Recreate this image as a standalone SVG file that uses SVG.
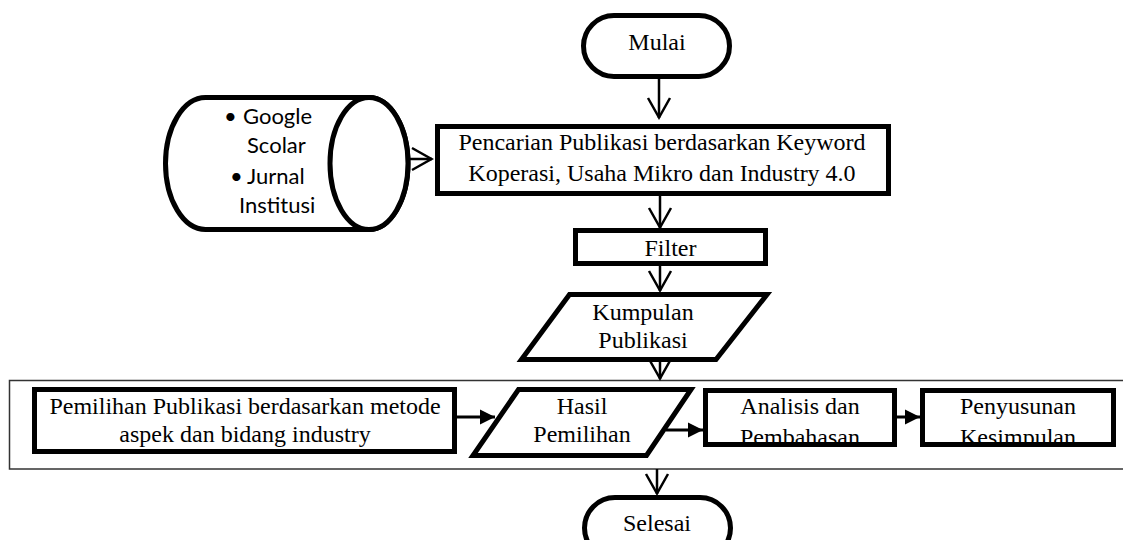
<svg xmlns="http://www.w3.org/2000/svg" width="1123" height="540" viewBox="0 0 1123 540">
<style>
.box{fill:#fff;stroke:#000;stroke-width:5;stroke-linejoin:miter}
.outline{fill:none;stroke:#000;stroke-width:5}
.t{font-family:"Liberation Serif","Times New Roman",serif;font-size:24px;fill:#000;text-anchor:middle}
.s{font-family:Lato,"Liberation Sans",sans-serif;font-size:22px;fill:#000}
.c{stroke:#000;stroke-width:2.5;fill:none}
.cf{stroke:#000;stroke-width:3;fill:none}
</style>
<defs>
<marker id="open" markerUnits="userSpaceOnUse" viewBox="0 0 24 26" refX="22" refY="13" markerWidth="24" markerHeight="26" orient="auto">
<path d="M2,2 L21.5,13 L2,24" fill="none" stroke="#000" stroke-width="2.5"/>
</marker>
<marker id="fill" markerUnits="userSpaceOnUse" viewBox="0 0 16 16" refX="15" refY="8" markerWidth="16" markerHeight="16" orient="auto">
<path d="M0,0.5 L15,8 L0,15.5 Z" fill="#000"/>
</marker>
<clipPath id="clipA"><rect x="708" y="393" width="184" height="49"/></clipPath>
<clipPath id="clipP"><rect x="925" y="393" width="186" height="49"/></clipPath>
</defs>

<g id="container">
<rect x="9.5" y="380.5" width="1125" height="88.5" fill="none" stroke="#333" stroke-width="1.5"/>
</g>

<g id="connectors">
<line class="c" x1="659" y1="79" x2="659" y2="118" marker-end="url(#open)"/>
<line class="c" x1="363" y1="159" x2="432" y2="159" marker-end="url(#open)"/>
<line class="c" x1="660" y1="196" x2="660" y2="228" marker-end="url(#open)"/>
<line class="c" x1="660" y1="266" x2="660" y2="291" marker-end="url(#open)"/>
<line class="c" x1="660" y1="358" x2="660" y2="379" marker-end="url(#open)"/>
<line class="c" x1="657" y1="469" x2="657" y2="494" marker-end="url(#open)"/>
<line class="cf" x1="457" y1="417" x2="495" y2="417" marker-end="url(#fill)"/>
<line class="cf" x1="666" y1="430" x2="703" y2="430" marker-end="url(#fill)"/>
<line class="cf" x1="897" y1="417" x2="920" y2="417" marker-end="url(#fill)"/>
</g>

<g id="mulai">
<rect class="box" x="583.5" y="15.5" width="146" height="61" rx="30.5"/>
<text class="t" x="657" y="50">Mulai</text>
</g>

<g id="sumber">
<path class="box" d="M205.5 97.5 L369 97.5 A39 66 0 0 1 369 229.5 L205.5 229.5 A40 66 0 0 1 205.5 97.5 Z"/>
<ellipse class="box" cx="369" cy="163.5" rx="39" ry="66"/>
<text class="s"><tspan x="224" y="124">•</tspan><tspan x="243" y="124">Google</tspan></text>
<text class="s" x="247" y="153">Scolar</text>
<text class="s"><tspan x="230" y="184">•</tspan><tspan x="247" y="184">Jurnal</tspan></text>
<text class="s" x="239" y="213">Institusi</text>
</g>

<g id="pencarian">
<rect class="box" x="437.5" y="126.5" width="451" height="67"/>
<text class="t" x="662" y="150">Pencarian Publikasi berdasarkan Keyword</text>
<text class="t" x="662" y="181">Koperasi, Usaha Mikro dan Industry 4.0</text>
</g>

<g id="filter">
<rect class="box" x="575.5" y="230.5" width="190" height="33"/>
<text class="t" x="670.5" y="256">Filter</text>
</g>

<g id="kumpulan">
<polygon class="box" points="569.5,294.5 767,294.5 716,359.5 521.5,359.5"/>
<text class="t" x="643" y="320">Kumpulan</text>
<text class="t" x="643" y="348">Publikasi</text>
</g>

<g id="pemilihan">
<rect class="box" x="34.5" y="389.5" width="420" height="62"/>
<text class="t" x="245" y="414">Pemilihan Publikasi berdasarkan metode</text>
<text class="t" x="245" y="442">aspek dan bidang industry</text>
</g>

<g id="hasil">
<polygon class="box" points="518.5,389.5 691,389.5 646.5,455.5 473,455.5"/>
<text class="t" x="582" y="414">Hasil</text>
<text class="t" x="582" y="442">Pemilihan</text>
</g>

<g id="analisis">
<rect x="705.5" y="390.5" width="189" height="54" fill="#fff"/>
<text class="t" x="800" y="414">Analisis dan</text>
<text class="t" x="800" y="445" clip-path="url(#clipA)">Pembahasan</text>
<rect class="outline" x="705.5" y="390.5" width="189" height="54"/>
</g>

<g id="penyusunan">
<rect x="922.5" y="390.5" width="191" height="54" fill="#fff"/>
<text class="t" x="1018" y="414">Penyusunan</text>
<text class="t" x="1018" y="445" clip-path="url(#clipP)">Kesimpulan</text>
<rect class="outline" x="922.5" y="390.5" width="191" height="54"/>
</g>

<g id="selesai">
<rect class="box" x="584.5" y="497.5" width="146" height="61" rx="30.5"/>
<text class="t" x="657" y="531">Selesai</text>
</g>
</svg>
